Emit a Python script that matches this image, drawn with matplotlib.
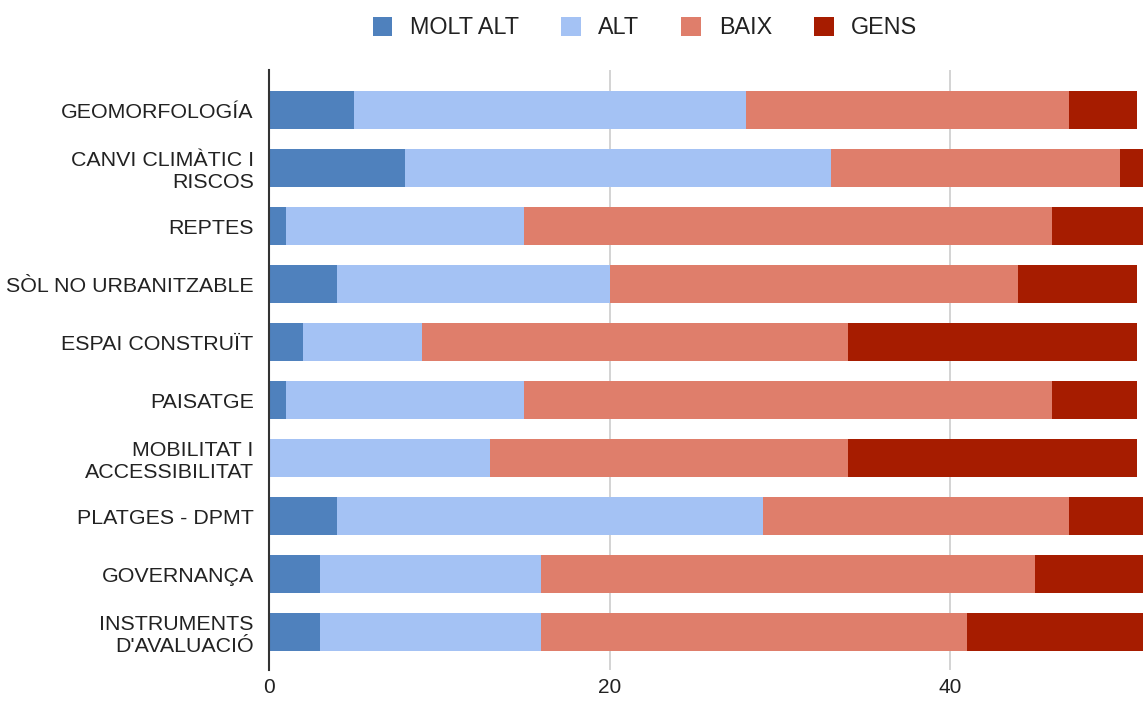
import matplotlib
matplotlib.use("Agg")
import matplotlib.pyplot as plt
import numpy as np

plt.rcParams['font.family'] = ['Liberation Sans', 'DejaVu Sans']

categories = ["GEOMORFOLOGÍA", "CANVI CLIMÀTIC I\nRISCOS", "REPTES", "SÒL NO URBANITZABLE",
              "ESPAI CONSTRUÏT", "PAISATGE", "MOBILITAT I\nACCESSIBILITAT", "PLATGES - DPMT",
              "GOVERNANÇA", "INSTRUMENTS\nD'AVALUACIÓ"]
molt_alt = [5, 8, 1, 4, 2, 1, 0, 4, 3, 3]
alt = [23, 25, 14, 16, 7, 14, 13, 25, 13, 13]
baix = [19, 17, 31, 24, 25, 31, 21, 18, 29, 25]
gens = [4, 2, 6, 7, 17, 5, 17, 5, 7, 11]
series_names = ["MOLT ALT", "ALT", "BAIX", "GENS"]
colors = ["#4f81bd", "#a4c2f4", "#df7e6b", "#a61c00"]

fig = plt.figure(figsize=(11.43, 7.02), dpi=100)
ax = fig.add_axes([269/1143, 32/702, 874/1143, 600/702])

y = np.arange(len(categories))
left = np.zeros(len(categories))
for vals, name, c in zip([molt_alt, alt, baix, gens], series_names, colors):
    ax.barh(y, vals, left=left, height=0.655, color=c, label=name, zorder=3)
    left += np.array(vals)

ax.set_xlim(0, 874/17.025)
ax.set_ylim(9 + 38/58, -40/58)
ax.set_yticks(y)
ax.set_yticklabels(categories, fontsize=15.4, color="#222222")
ax.set_xticks([0, 20, 40])
ax.set_xticklabels(["0", "20", "40"], fontsize=15, color="#222222")
ax.tick_params(axis='y', length=0, pad=11)
ax.tick_params(axis='x', length=0, pad=6)
ax.grid(axis='x', color="#cccccc", linewidth=1.2, zorder=0)
for s in ["top", "right", "bottom"]:
    ax.spines[s].set_visible(False)
ax.spines["left"].set_color("#333333")
ax.spines["left"].set_linewidth(1.5)
ax.spines["left"].set_zorder(4)

leg = fig.legend(loc="center", bbox_to_anchor=(645/1143, 1 - 28/702), ncol=4, frameon=False,
                 fontsize=16.8, handlelength=0.85, handleheight=0.85, columnspacing=1.8,
                 handletextpad=0.75)
for t in leg.get_texts():
    t.set_color("#222222")

fig.savefig("out.png", dpi=100)
